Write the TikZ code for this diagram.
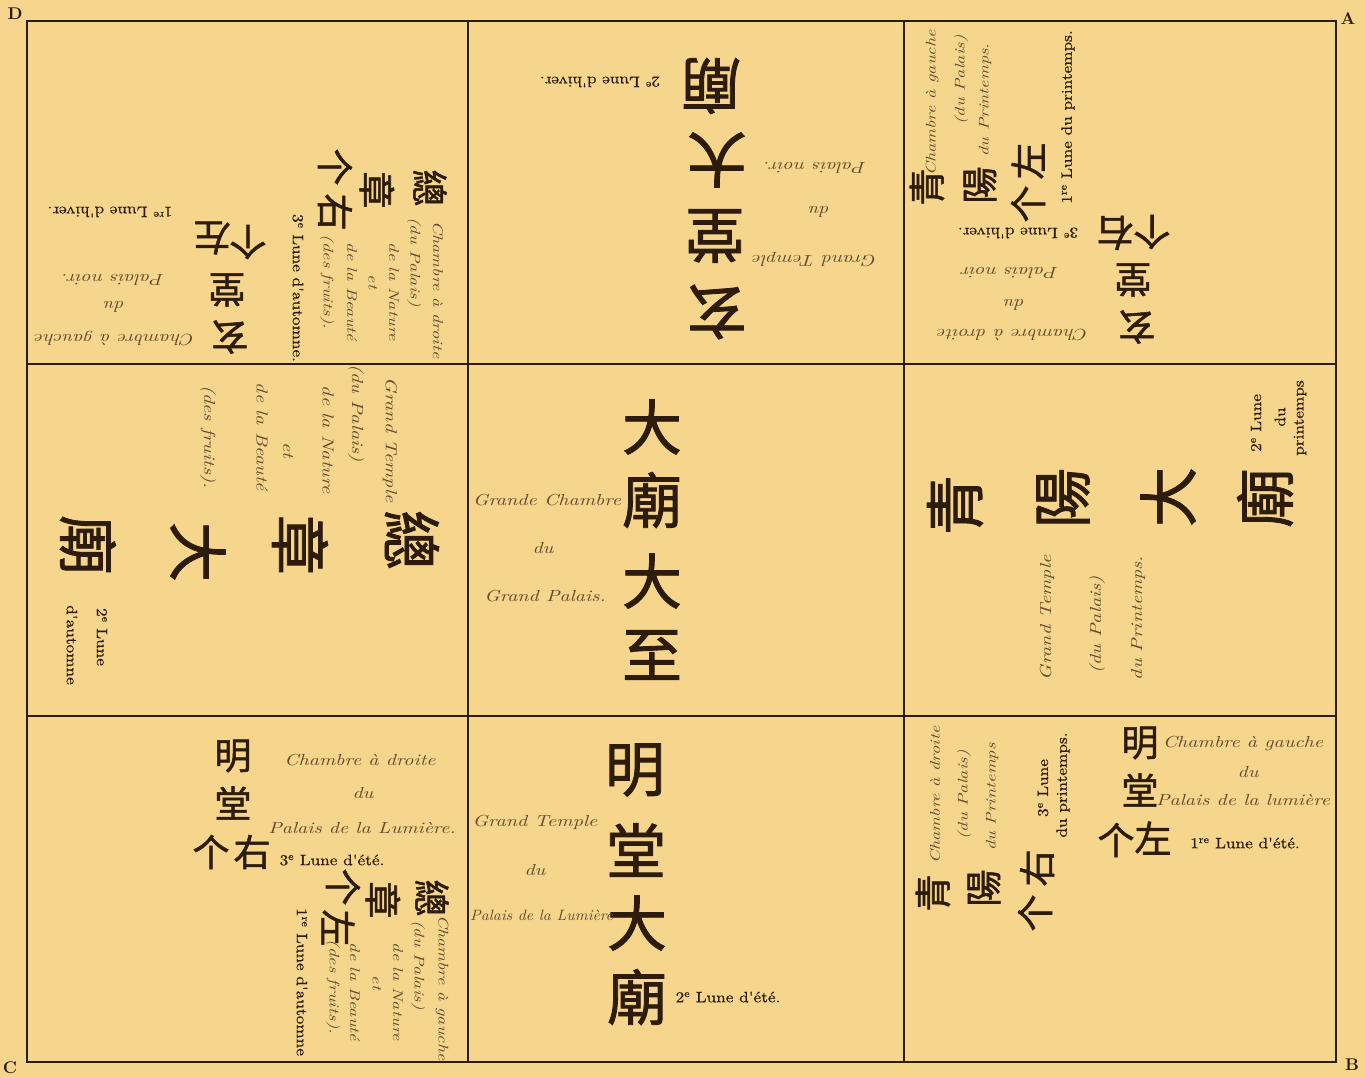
\documentclass[tikz,border=0pt]{standalone}
\usepackage{fontspec}
\newfontfamily\cjk{Noto Sans CJK TC}[FakeBold=1.4]
\newfontfamily\frit{lmroman10-italic}[Extension=.otf,FakeStretch=1.25]
\newfontfamily\fritw{lmroman10-italic}[Extension=.otf,FakeStretch=1.3]
\newfontfamily\frin{lmroman10-italic}[Extension=.otf,FakeStretch=1.05]
\newfontfamily\lunef{lmroman10-regular}[Extension=.otf,FakeStretch=1.15,FakeBold=0.6]
\newfontfamily\cornerf{lmroman10-bold}[Extension=.otf]
\definecolor{paper}{RGB}{245,214,140}
\definecolor{ink}{RGB}{45,28,12}
\definecolor{sepia}{RGB}{100,74,44}
\begin{document}
\begin{tikzpicture}[x=1pt,y=-1pt,
  frame/.style={draw=ink,line width=1.8pt},
  hz/.style={font=\cjk\fontsize{60}{60}\selectfont,text=ink,inner sep=0pt},
  hzm/.style={font=\cjk\fontsize{37}{37}\selectfont,text=ink,inner sep=0pt},
  fr/.style={font=\frit\fontsize{16}{16}\selectfont,text=sepia,inner sep=0pt},
  frn/.style={font=\frin\fontsize{15}{15}\selectfont,text=sepia,inner sep=0pt},
  frd/.style={font=\fritw\fontsize{14}{14}\selectfont,text=sepia,inner sep=0pt},
  lune/.style={font=\lunef\fontsize{15}{15}\selectfont,text=ink,inner sep=0pt},
  corner/.style={font=\cornerf\fontsize{17}{17}\selectfont,text=ink,inner sep=0pt},
  upd/.style={rotate=180},
  cw/.style={rotate=-90},
  ccw/.style={rotate=90}]
\useasboundingbox (0,0) rectangle (1365,1078);
\fill[paper] (0,0) rectangle (1365,1078);

% grid
\draw[frame] (27,21) rectangle (1336,1062);
\draw[frame] (468,21) -- (468,1062);
\draw[frame] (904,21) -- (904,1062);
\draw[frame] (27,364) -- (1336,364);
\draw[frame] (27,716) -- (1336,716);

% corner letters
\node[corner] (cD) at (15,14) {D};
\node[corner] (cA) at (1348,19) {A};
\node[corner] (cC) at (10,1068) {C};
\node[corner] (cB) at (1352,1065) {B};

% ===== top-left cell =====
\node[hzm,cw] (tla1) at (430,188) {總};
\node[hzm,cw] (tla2) at (377,190) {章};
\node[hzm,cw] (tla3) at (335,167) {个};
\node[hzm,cw] (tla4) at (335,212) {右};
\node[frd,cw] (tlf1) at (438,290) {Chambre à droite};
\node[frd,cw] (tlf2) at (414,262) {(du Palais)};
\node[frd,cw] (tlf3) at (394,292) {de la Nature};
\node[frd,cw] (tlf4) at (373,282) {et};
\node[frd,cw] (tlf5) at (352,292) {de la Beauté};
\node[frd,cw] (tlf6) at (327,282) {(des fruits).};
\node[lune,cw] (tll1) at (298,288) {3\textsuperscript{e} Lune d'automne.};

\node[hzm,upd] (tlb1) at (230,337) {玄};
\node[hzm,upd] (tlb2) at (227,290) {堂};
\node[hzm,upd] (tlb3) at (212,238) {左};
\node[hzm,upd] (tlb4) at (248,242) {个};
\node[fr,upd] (tlg1) at (115,338) {Chambre à gauche};
\node[fr,upd] (tlg2) at (115,307) {du};
\node[fr,upd] (tlg3) at (113,280) {Palais noir.};
\node[lune,upd] (tll2) at (110,212) {1\textsuperscript{re} Lune d'hiver.};

% ===== top-middle cell =====
\node[hz,upd] (tm1) at (717,312) {玄};
\node[hz,upd] (tm2) at (715,236) {堂};
\node[hz,upd] (tm3) at (717,160) {大};
\node[hz,upd] (tm4) at (711,86) {廟};
\node[fr,upd] (tmf1) at (815,260) {Grand Temple};
\node[fr,upd] (tmf2) at (820,212) {du};
\node[fr,upd] (tmf3) at (815,168) {Palais noir.};
\node[lune,upd] (tml1) at (600,82) {2\textsuperscript{e} Lune d'hiver.};

% ===== top-right cell =====
\node[hzm,ccw] (tra1) at (927,187) {青};
\node[hzm,ccw] (tra2) at (980,185) {陽};
\node[hzm,ccw] (tra3) at (1028,161) {左};
\node[hzm,ccw] (tra4) at (1028,204) {个};
\node[frd,ccw] (trf1) at (932,103) {Chambre à gauche};
\node[frd,ccw] (trf2) at (961,80) {(du Palais)};
\node[frd,ccw] (trf3) at (985,100) {du Printemps.};
\node[lune,ccw] (trl1) at (1068,117) {1\textsuperscript{re} Lune du printemps.};

\node[hzm,upd] (trb1) at (1137,327) {玄};
\node[hzm,upd] (trb2) at (1133,280) {堂};
\node[hzm,upd] (trb3) at (1115,233) {右};
\node[hzm,upd] (trb4) at (1152,232) {个};
\node[fr,upd] (trg1) at (1013,335) {Chambre à droite};
\node[fr,upd] (trg2) at (1015,305) {du};
\node[fr,upd] (trg3) at (1010,273) {Palais noir};
\node[lune,upd] (trl2) at (1018,233) {3\textsuperscript{e} Lune d'hiver.};

% ===== middle-left cell =====
\node[hz,cw] (ml1) at (412,540) {總};
\node[hz,cw] (ml2) at (300,545) {章};
\node[hz,cw] (ml3) at (198,552) {大};
\node[hz,cw] (ml4) at (88,545) {廟};
\node[fr,cw] (mlf1) at (390,440) {Grand Temple};
\node[fr,cw] (mlf2) at (356,413) {(du Palais)};
\node[fr,cw] (mlf3) at (328,440) {de la Nature};
\node[fr,cw] (mlf4) at (288,450) {et};
\node[fr,cw] (mlf5) at (262,437) {de la Beauté};
\node[fr,cw] (mlf6) at (208,437) {(des fruits).};
\node[lune,cw] (mll1) at (102,637) {2\textsuperscript{e} Lune};
\node[lune,cw] (mll2) at (72,645) {d'automne};

% ===== centre cell =====
\node[hz] (c1) at (652,427) {大};
\node[hz] (c2) at (652,500) {廟};
\node[hz] (c3) at (652,581) {大};
\node[hz] (c4) at (652,655) {至};
\node[fr] (cf1) at (547,500) {Grande Chambre};
\node[fr] (cf2) at (543,548) {du};
\node[fr] (cf3) at (545,596) {Grand Palais.};

% ===== middle-right cell =====
\node[hz,ccw] (mr1) at (955,505) {青};
\node[hz,ccw] (mr2) at (1063,498) {陽};
\node[hz,ccw] (mr3) at (1168,497) {大};
\node[hz,ccw] (mr4) at (1265,498) {廟};
\node[fr,ccw] (mrf1) at (1047,618) {Grand Temple};
\node[fr,ccw] (mrf2) at (1097,625) {(du Palais)};
\node[fr,ccw] (mrf3) at (1138,618) {du Printemps.};
\node[lune,ccw] (mrl1) at (1256,423) {2\textsuperscript{e} Lune};
\node[lune,ccw] (mrl2) at (1280,417) {du};
\node[lune,ccw] (mrl3) at (1300,418) {printemps};

% ===== bottom-left cell =====
\node[hzm] (bla1) at (233,756) {明};
\node[hzm] (bla2) at (233,803) {堂};
\node[hzm] (bla3) at (211,852) {个};
\node[hzm] (bla4) at (252,852) {右};
\node[fr] (blf1) at (360,760) {Chambre à droite};
\node[fr] (blf2) at (363,793) {du};
\node[fr] (blf3) at (362,828) {Palais de la Lumière.};
\node[lune] (bll1) at (332,860) {3\textsuperscript{e} Lune d'été.};

\node[hzm,cw] (blb1) at (432,898) {總};
\node[hzm,cw] (blb2) at (383,900) {章};
\node[hzm,cw] (blb3) at (343,887) {个};
\node[hzm,cw] (blb4) at (338,928) {左};
\node[frd,cw] (blg1) at (442,988) {Chambre à gauche};
\node[frd,cw] (blg2) at (418,965) {(du Palais)};
\node[frd,cw] (blg3) at (398,992) {de la Nature};
\node[frd,cw] (blg4) at (377,983) {et};
\node[frd,cw] (blg5) at (355,992) {de la Beauté};
\node[frd,cw] (blg6) at (333,987) {(des fruits).};
\node[lune,cw] (bll2) at (302,982) {1\textsuperscript{re} Lune d'automne};

% ===== bottom-middle cell =====
\node[hz] (bm1) at (635,770) {明};
\node[hz] (bm2) at (636,850) {堂};
\node[hz] (bm3) at (637,923) {大};
\node[hz] (bm4) at (637,997) {廟};
\node[fr] (bmf1) at (535,822) {Grand Temple};
\node[fr] (bmf2) at (535,870) {du};
\node[frn,anchor=west] (bmf3) at (470,915) {Palais de la Lumière};
\node[lune] (bml1) at (728,997) {2\textsuperscript{e} Lune d'été.};

% ===== bottom-right cell =====
\node[hzm] (bra1) at (1140,743) {明};
\node[hzm] (bra2) at (1140,790) {堂};
\node[hzm] (bra3) at (1116,840) {个};
\node[hzm] (bra4) at (1153,838) {左};
\node[fr] (brf1) at (1243,743) {Chambre à gauche};
\node[fr] (brf2) at (1248,772) {du};
\node[fr] (brf3) at (1243,800) {Palais de la lumière};
\node[lune] (brl1) at (1245,843) {1\textsuperscript{re} Lune d'été.};

\node[hzm,ccw] (brb1) at (933,893) {青};
\node[hzm,ccw] (brb2) at (984,888) {陽};
\node[hzm,ccw] (brb3) at (1037,868) {右};
\node[hzm,ccw] (brb4) at (1035,913) {个};
\node[frd,ccw] (brg1) at (935,795) {Chambre à droite};
\node[frd,ccw] (brg2) at (964,795) {(du Palais)};
\node[frd,ccw] (brg3) at (992,797) {du Printemps};
\node[lune,ccw] (brl2) at (1043,788) {3\textsuperscript{e} Lune};
\node[lune,ccw] (brl3) at (1063,785) {du printemps.};
\end{tikzpicture}
\end{document}
